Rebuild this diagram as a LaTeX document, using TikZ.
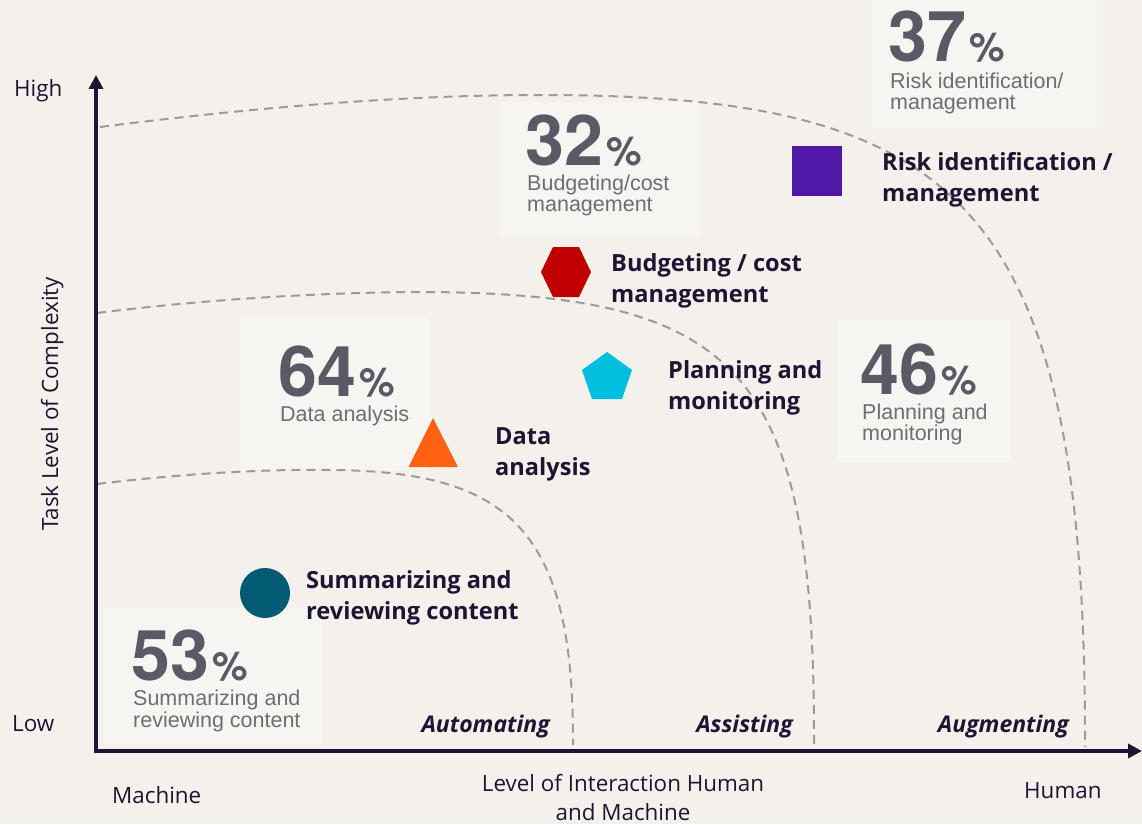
\documentclass[tikz,border=0pt]{standalone}
\usepackage{fontspec}
\setmainfont{Open Sans}
\newfontfamily\pctfont{TeX Gyre Heros}
\newfontfamily\subfont{Liberation Sans}
\usetikzlibrary{arrows.meta}
\definecolor{bg}{HTML}{F4F1EC}
\definecolor{boxfill}{HTML}{F7F5F1}
\definecolor{ink}{HTML}{1E1433}
\definecolor{pctgray}{HTML}{5A5965}
\definecolor{subgray}{HTML}{6E6D75}
\definecolor{dashgray}{HTML}{9E9A96}
\definecolor{cteal}{HTML}{035B73}
\definecolor{corange}{HTML}{FE6112}
\definecolor{ccyan}{HTML}{02BEDF}
\definecolor{cred}{HTML}{C00000}
\definecolor{cpurple}{HTML}{5117A6}
\tikzset{
  lbl/.style={font=\bfseries\fontsize{23.6}{23.6}\selectfont, text=ink, inner sep=0pt, anchor=base west},
  ital/.style={font=\bfseries\itshape\fontsize{23}{23}\selectfont, text=ink, inner sep=0pt, anchor=base east},
  axl/.style={font=\fontsize{22.4}{22.4}\selectfont, text=ink, inner sep=0pt},
  pct/.style={font=\pctfont\bfseries, text=pctgray, inner sep=0pt, anchor=base west, text depth=0pt},
  sub/.style={font=\subfont\fontsize{21.5}{21.5}\selectfont, text=subgray, inner sep=0pt, anchor=base west, text height=11pt, text depth=3pt},
  curve/.style={dashgray, line width=2pt, dash pattern=on 9pt off 6pt},
  axis/.style={ink, line width=4pt, -{Triangle[width=14pt,length=14pt]}},
  pbox/.style={fill=boxfill, draw=none},
}
\newcommand{\pctval}[1]{\fontsize{70}{70}\selectfont #1\kern3pt\fontsize{40}{40}\selectfont\%}
\begin{document}
\begin{tikzpicture}[x=1pt,y=-1pt]
\useasboundingbox (0,0) rectangle (1142,824);
\fill[bg] (0,0) rectangle (1142,824);

% faint percentage boxes
\fill[pbox] (872,0) rectangle (1097,128);
\fill[pbox] (500,102) rectangle (700,235);
\fill[pbox] (240,318) rectangle (430,470);
\fill[pbox] (838,320) rectangle (1010,462);
\fill[pbox] (105,608) rectangle (322,745);

% dashed zone curves
\draw[curve] (97,484) .. controls (180,474) and (260,469) .. (330,470)
  .. controls (510,471) and (574,530) .. (573,745);
\draw[curve] (97,313) .. controls (200,300) and (320,292) .. (430,292)
  .. controls (740,295) and (815,370) .. (814,745);
\draw[curve] (100,127) .. controls (250,108) and (400,95) .. (540,95)
  .. controls (960,95) and (1086,200) .. (1085,747);

% axes
\coordinate (origin) at (96,753);
\coordinate (ytip) at (96,75);
\coordinate (xstart) at (94,751);
\coordinate (xtip) at (1142,751);
\draw[axis] (origin) -- (ytip);
\draw[axis] (xstart) -- (xtip);

% axis labels
\node[axl, anchor=base west] (high) at (14,97) {High};
\node[axl, anchor=base west] (low) at (12,731.5) {Low};
\node[axl, anchor=base, rotate=90] (ylab) at (58,404) {Task Level of Complexity};
\node[axl, anchor=base west] (machine) at (112,803.5) {Machine};
\node[axl, anchor=base] (xlab1) at (623,791.5) {Level of Interaction Human};
\node[axl, anchor=base] (xlab2) at (623,820) {and Machine};
\node[axl, anchor=base west] (human) at (1024,798.5) {Human};

% zone labels
\node[ital] (auto) at (550,732) {Automating};
\node[ital] (assist) at (793,732) {Assisting};
\node[ital] (augment) at (1069,732) {Augmenting};

% percentage figures
\node[pct] (p37) at (888,62) {\pctval{37}};
\node[sub] (s37a) at (890,89) {Risk identification/};
\node[sub] (s37b) at (890,110) {management};
\node[pct] (p32) at (525,165) {\pctval{32}};
\node[sub] (s32a) at (527,190) {Budgeting/cost};
\node[sub] (s32b) at (527,211) {management};
\node[pct] (p64) at (278,396) {\pctval{64}};
\node[sub] (s64a) at (280,421) {Data analysis};
\node[pct] (p46) at (860,394) {\pctval{46}};
\node[sub] (s46a) at (862,419) {Planning and};
\node[sub] (s46b) at (862,440) {monitoring};
\node[pct] (p53) at (131,680) {\pctval{53}};
\node[sub] (s53a) at (133,705) {Summarizing and};
\node[sub] (s53b) at (133,727) {reviewing content};

% markers
\fill[cteal] (265,593) circle (25);
\fill[corange] (408.5,467) -- (433,418) -- (458,467) -- cycle;
\fill[ccyan] (607,352) -- (632,370) -- (622,399) -- (592,399) -- (582,370) -- cycle;
\fill[cred] (541,272) -- (553,247) -- (579,247) -- (591,272) -- (579,297) -- (553,297) -- cycle;
\fill[cpurple] (792,146) rectangle (842,196);

% marker labels
\node[lbl] (l1a) at (306,588) {Summarizing and};
\node[lbl] (l1b) at (306,619) {reviewing content};
\node[lbl] (l2a) at (495,444) {Data};
\node[lbl] (l2b) at (495,475) {analysis};
\node[lbl] (l3a) at (668,378) {Planning and};
\node[lbl] (l3b) at (668,409) {monitoring};
\node[lbl] (l4a) at (611,271) {Budgeting / cost};
\node[lbl] (l4b) at (611,302) {management};
\node[lbl] (l5a) at (882,170) {Risk identification /};
\node[lbl] (l5b) at (882,201) {management};
\end{tikzpicture}
\end{document}
